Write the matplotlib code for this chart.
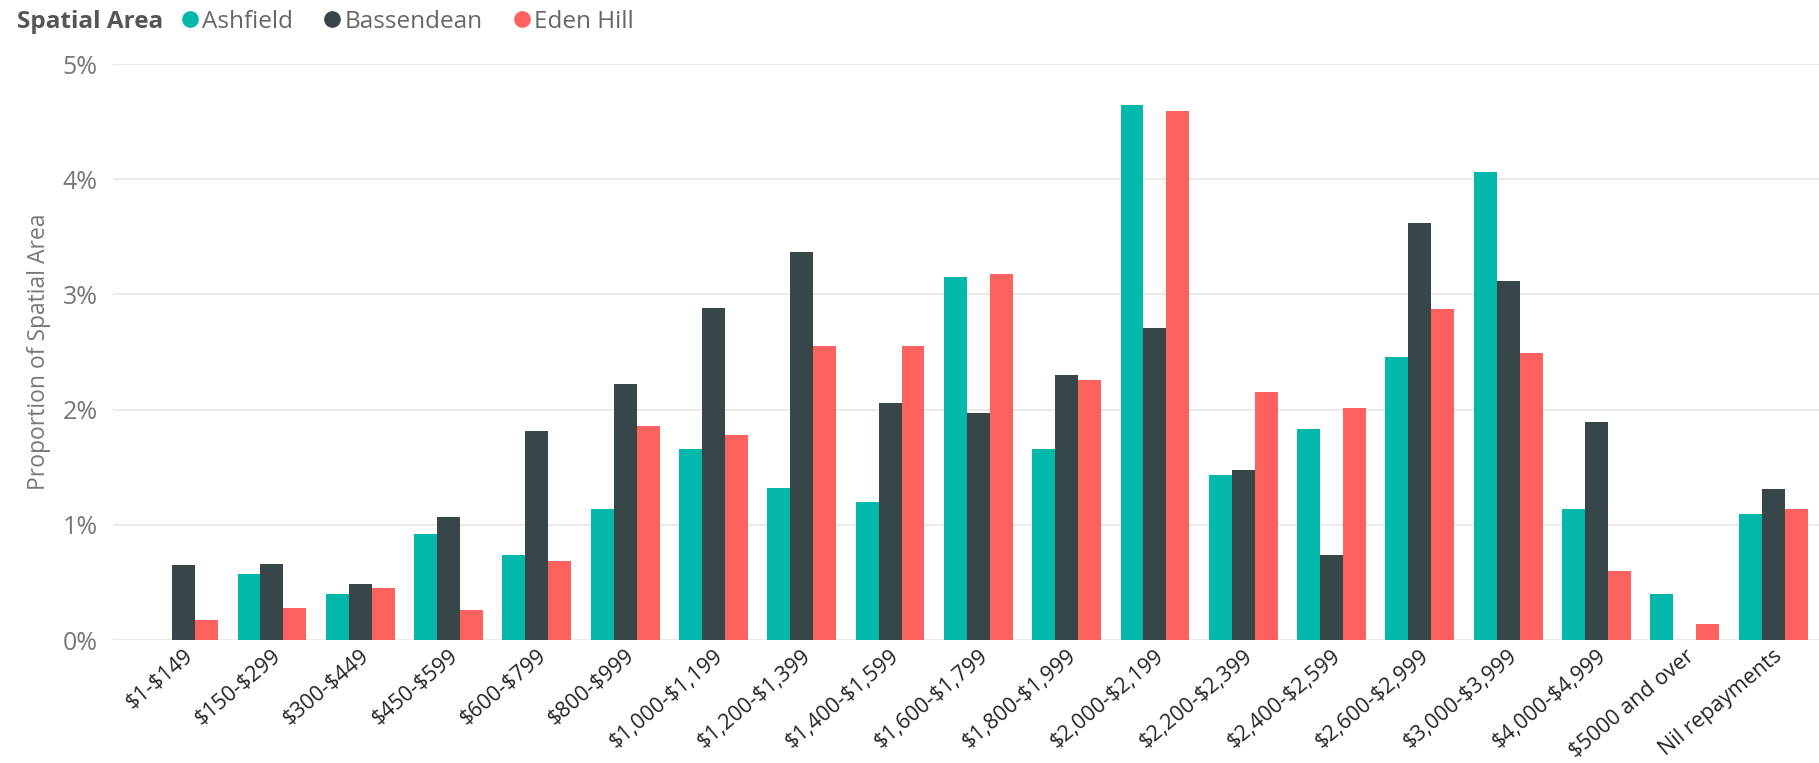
import numpy as np
import matplotlib
matplotlib.use("Agg")
import matplotlib.pyplot as plt
from matplotlib.lines import Line2D
from matplotlib.ticker import FuncFormatter

# repayment bands (monthly mortgage repayments)
bands = ["$1-$149", "$150-$299", "$300-$449", "$450-$599", "$600-$799",
         "$800-$999", "$1,000-$1,199", "$1,200-$1,399", "$1,400-$1,599",
         "$1,600-$1,799", "$1,800-$1,999", "$2,000-$2,199", "$2,200-$2,399",
         "$2,400-$2,599", "$2,600-$2,999", "$3,000-$3,999", "$4,000-$4,999",
         "$5000 and over", "Nil repayments"]

# proportion of spatial area, in percent
ashfield = [0.0, 0.57, 0.40, 0.92, 0.74, 1.14, 1.66, 1.32, 1.20, 3.15,
            1.66, 4.64, 1.43, 1.83, 2.46, 4.06, 1.14, 0.40, 1.09]
bassendean = [0.65, 0.66, 0.49, 1.07, 1.81, 2.22, 2.88, 3.37, 2.06, 1.97,
              2.30, 2.71, 1.48, 0.74, 3.62, 3.12, 1.89, 0.0, 1.31]
eden_hill = [0.17, 0.28, 0.45, 0.26, 0.69, 1.86, 1.78, 2.55, 2.55, 3.18,
             2.26, 4.59, 2.15, 2.01, 2.87, 2.49, 0.60, 0.14, 1.14]

areas = ["Ashfield", "Bassendean", "Eden Hill"]
colors = ["#01B8AA", "#374649", "#FD625E"]

plt.rcParams["font.family"] = ["Open Sans", "DejaVu Sans"]
plt.rcParams["text.parse_math"] = False

fig = plt.figure(figsize=(18.19, 7.63), dpi=100)
ax = fig.add_axes([113 / 1819, (763 - 640) / 763, 1 - 113 / 1819, (640 - 64) / 763])

x = np.arange(len(bands))
w = 0.26
for i, (vals, c) in enumerate(zip([ashfield, bassendean, eden_hill], colors)):
    ax.bar(x + (i - 1) * w, vals, width=w, color=c, zorder=3)

ax.set_xlim(-0.8, len(bands) - 0.48)
ax.set_ylim(0, 5)
ax.set_yticks([0, 1, 2, 3, 4, 5])
ax.yaxis.set_major_formatter(FuncFormatter(lambda v, p: "%d%%" % v))
ax.grid(axis="y", color="#EAEAEA", linewidth=1.5, zorder=0)
for s in ax.spines.values():
    s.set_visible(False)
ax.tick_params(axis="y", length=0, pad=11, labelsize=18, labelcolor="#777777")
ax.tick_params(axis="x", length=0, pad=4)
ax.set_xticks(x)
ax.set_xticklabels(bands, rotation=40, ha="right", va="top",
                   rotation_mode="anchor", fontsize=15.5, color="#252423")
for lbl in ax.get_xticklabels():
    lbl.set_x(lbl.get_position()[0])
ax.set_ylabel("Proportion of Spatial Area", fontsize=16.5, color="#777777", labelpad=8)

# legend across the top
fig.text(17 / 1819, 1 - 22 / 763, "Spatial Area", fontsize=17.5, fontweight="bold",
         color="#555555", va="center", ha="left")
handles = [Line2D([], [], marker="o", linestyle="", markersize=11, color=c) for c in colors]
fig.legend(handles, areas, loc="center left", bbox_to_anchor=(166 / 1819, 1 - 22 / 763),
           ncol=3, frameon=False, fontsize=17.5, labelcolor="#666666",
           handletextpad=0.0, columnspacing=1.1, borderpad=0, handlelength=1.0)

fig.savefig("out.png", dpi=100)
